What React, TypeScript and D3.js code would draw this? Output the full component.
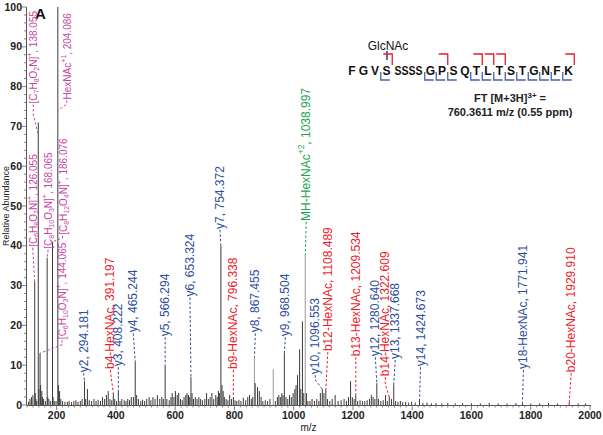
import React from "react";
import * as d3 from "d3";

// ---------------- DATA ----------------
// spectrum peaks: [m/z, relative abundance %]
const peaks: [number, number][] = [
  [105, 0.8], [110, 1.5], [115, 2.0], [120, 2.5], [126.055, 31], [128, 3], [130, 1.5], [133, 1],
  [138.055, 71], [140, 4], [144.065, 13], [146, 5], [150, 3.5], [152, 2], [156, 1.5], [162, 1],
  [168.065, 37], [170, 2], [174, 1.5], [180, 1], [186.076, 41], [188, 2], [192, 1], [198, 1],
  [204.086, 100], [206, 5], [210, 3.5], [214, 1.5], [220, 1], [228, 0.8],
  [236, 0.8], [242, 1], [250, 0.7], [258, 1], [265, 1.2], [272, 0.8], [280, 1], [286, 1.5],
  [294.181, 6], [298, 1.5], [304, 4], [310, 1.2], [318, 1], [326, 1.5], [333, 1], [340, 1.3],
  [348, 1], [355, 2], [362, 1.5], [368, 2.5], [374, 3.5], [380, 1.5], [386, 1.2], [391.197, 3],
  [396, 1.5], [402, 1], [408.222, 3.5], [414, 1], [420, 1.5], [428, 1.2], [434, 1], [440, 1.5],
  [446, 1.2], [452, 2], [459, 2], [465.244, 11], [470, 2.5], [476, 1.5], [484, 1], [490, 1.3],
  [497, 1], [504, 1.5], [512, 2], [518, 1.2], [525, 2], [532, 1.5], [540, 2.5], [548, 1.5],
  [555, 2], [560, 1.5], [566.294, 10], [572, 1.5], [580, 1.2], [586, 2], [590, 3], [596, 2],
  [601, 3.5], [607, 2.5], [612, 3], [618, 1.5], [624, 1.2], [630, 2], [636, 2.5], [640, 3],
  [645, 2.5], [649, 2], [653.324, 7], [657, 3], [662, 1.5], [668, 2], [674, 1.5], [680, 2],
  [686, 1.5], [692, 1.2], [700, 1.5], [706, 3], [712, 1.5], [718, 2], [724, 3], [730, 1.5],
  [737, 2.5], [742, 2], [746, 3.5], [750, 3], [754.372, 40], [758, 5], [762, 3.5], [766, 2],
  [772, 1.5], [778, 1.2], [784, 2.5], [790, 1.5], [796.338, 2], [802, 1.2], [808, 1], [815, 1.3],
  [822, 1], [830, 1.8], [838, 1.2], [845, 2], [851, 2.5], [857, 1.5], [862, 2], [867.455, 12],
  [870, 5.5], [878, 4.5], [884, 3.5], [890, 2], [896, 1], [904, 1.2], [912, 1], [920, 1.5],
  [931, 9], [938, 1], [945, 2], [950, 2.5], [955, 2], [960, 3], [964, 2.5], [968.504, 13],
  [974, 2], [980, 1.5], [986, 2.5], [992, 2], [998, 3], [1004, 4], [1008, 5], [1013, 7.5],
  [1020, 14], [1024, 4], [1029.5, 21], [1034, 3], [1038.997, 37.5], [1043, 3], [1048, 1],
  [1055, 1], [1062, 1.5], [1070, 1], [1078, 1.5], [1085, 1], [1090, 3], [1096.553, 4],
  [1102, 3], [1108.489, 4], [1114, 1.5], [1122, 1], [1130, 1.5], [1140, 2.5], [1150, 1],
  [1160, 1.2], [1170, 1.5], [1178, 1], [1185, 2], [1192, 6], [1198, 2], [1204, 1.5],
  [1209.534, 2.5], [1216, 1], [1224, 1.2], [1232, 1], [1240, 1], [1248, 1.2], [1256, 1.5],
  [1262, 2.5], [1268, 2], [1274, 1.5], [1280.64, 5.5], [1286, 1.5], [1294, 1], [1302, 1.2],
  [1310, 2.5], [1316, 1], [1322.609, 2], [1330, 1.5], [1337.668, 5], [1344, 1], [1352, 0.8],
  [1360, 1], [1368, 0.7], [1378, 0.8], [1388, 0.6], [1398, 0.8], [1410, 0.6], [1424.673, 1],
  [1436, 0.5], [1450, 0.6], [1465, 0.4], [1480, 0.5], [1500, 0.4], [1520, 0.5], [1545, 0.4],
  [1570, 0.5], [1600, 0.4], [1630, 0.4], [1660, 0.5], [1690, 0.4], [1720, 0.4], [1750, 0.5],
  [1771.941, 0.6], [1800, 0.4], [1830, 0.4], [1860, 0.5], [1890, 0.4], [1929.91, 0.6],
  [1960, 0.4], [1985, 0.4],
];
const lightPeaks = [867.455, 931, 1038.997];

// annotations
const annMz = [126.055, 138.055, 144.065, 168.065, 186.076, 204.086,
  294.181, 391.197, 408.222, 465.244, 566.294, 653.324, 754.372, 796.338, 867.455, 968.504,
  1038.997, 1096.553, 1108.489, 1209.534, 1280.64, 1322.609, 1337.668, 1424.673, 1771.941, 1929.91];
const annLabels = [
  "[C_6H_8O_2N]^+, 126.055", "[C_7H_8O_2N]^+, 138.055", "[C_6H_10O_3N]^+, 144.065",
  "[C_8H_10O_3N]^+, 168.065", "[C_8H_12O_4N]^+, 186.076", "HexNAc^+1, 204.086",
  "y2, 294.181", "b4-HexNAc, 391.197", "y3, 408.222", "y4, 465.244", "y5, 566.294", "y6, 653.324",
  "y7, 754.372", "b9-HexNAc, 796.338", "y8, 867.455", "y9, 968.504", "MH-HexNAc^+2, 1038.997",
  "y10, 1096.553", "b12-HexNAc, 1108.489", "b13-HexNAc, 1209.534", "y12, 1280.640",
  "b14-HexNAc, 1322.609", "y13, 1337.668", "y14, 1424.673", "y18-HexNAc, 1771.941", "b20-HexNAc, 1929.910"];
const annKinds = ["oxo", "oxo", "oxo", "oxo", "oxo", "oxo",
  "y", "b", "y", "y", "y", "y", "y", "b", "y", "y", "mh", "y", "b", "b", "y", "b", "y", "y", "y", "b"];

// sequence
const residues = ["F", "G", "V", "S", "SSSS", "G", "P", "S", "Q", "T", "L", "T", "S", "T", "G", "N", "F", "K"];
const bBreaks = [3, 6, 9, 10, 11, 17]; // after residue token
const yBreaks = [3, 5, 6, 7, 9, 10, 11, 12, 13, 14, 15, 16, 17]; // before residue token

const xTicksMajor = d3.range(200, 2001, 200);
const xTicksMinor = d3.range(100, 2001, 20);
const yTicksMajor = d3.range(0, 101, 10);
const yTicksMinor = d3.range(0, 101, 2);

// ---------------- LAYOUT / STYLE ----------------
// label placement: dx (px from peak), level (label bottom in %), target (leader end, %)
const annLayout: { dx: number; level: number; target?: number }[] = [
  { dx: -2, level: 39.5 }, { dx: -5, level: 75.5, target: 68 }, { dx: 22, level: 16.3 },
  { dx: 1, level: 39 }, { dx: 10, level: 42.5 }, { dx: 9, level: 76.5, target: 74 },
  { dx: -1, level: 8 }, { dx: -3, level: 8.8 }, { dx: 0, level: 9.5 }, { dx: -2, level: 18 },
  { dx: 0, level: 17 }, { dx: -1, level: 27 }, { dx: -1, level: 44 }, { dx: 0, level: 8.8 },
  { dx: 1, level: 18 }, { dx: 1, level: 17 }, { dx: 1, level: 46 }, { dx: -7, level: 7.5 },
  { dx: 2, level: 13.3 }, { dx: 0, level: 12 }, { dx: -1.5, level: 12 }, { dx: -4, level: 7 },
  { dx: 1.5, level: 11.3 }, { dx: 1, level: 9.5 }, { dx: 1, level: 8.8 }, { dx: 2, level: 8 },
];
const kindColor: Record<string, string> = { oxo: "#c5479f", y: "#2f4f9c", b: "#ec1c2a", mh: "#1ea44e" };

const W = 603, H = 435;
const x = d3.scaleLinear().domain([100, 2000]).range([27, 590]);
const y = d3.scaleLinear().domain([0, 100]).range([405, 7]);

function RichText({ s, fs }: { s: string; fs: number }) {
  const parts = s.match(/(_\d+|\^[+\-\d]+|[^_^]+)/g) || [];
  let shift = 0;
  return (
    <>
      {parts.map((p, i) => {
        let target = 0, txt = p, size = fs;
        if (p[0] === "_") { target = fs * 0.3; txt = p.slice(1); size = fs * 0.7; }
        else if (p[0] === "^") { target = -fs * 0.4; txt = p.slice(1); size = fs * 0.7; }
        const dy = target - shift;
        shift = target;
        return <tspan key={i} dy={dy} fontSize={size}>{txt}</tspan>;
      })}
    </>
  );
}

export default function App() {
  const font = "'Liberation Sans', Arial, sans-serif";
  // sequence layout
  const charW = 7, gap = 4.5;
  let cursor = 348.5;
  const tok = residues.map((r) => {
    const left = cursor;
    const right = left + r.length * charW;
    cursor = right + gap;
    return { r, left, right };
  });
  const seqBase = 75;
  const seqFs = 12;

  return (
    <svg width={W} height={H} style={{ position: "absolute", left: 0, top: 0, background: "#fff" }} fontFamily={font}>
      {/* peaks */}
      {peaks.map(([mz, v], i) => (
        <line key={i} x1={x(mz)} x2={x(mz)} y1={y(0)} y2={y(v)}
          stroke={lightPeaks.includes(mz) ? "#9a9a9a" : "#3a3a3a"} strokeWidth={1} />
      ))}

      {/* axes */}
      <line x1={x(100) - 0.5} x2={x(100) - 0.5} y1={y(0)} y2={y(100)} stroke="#555" strokeWidth={1} />
      <line x1={x(100) - 0.5} x2={x(2000) + 1} y1={y(0) + 0.5} y2={y(0) + 0.5} stroke="#555" strokeWidth={1} />
      {xTicksMinor.map((t) => (
        <line key={"xm" + t} x1={x(t)} x2={x(t)} y1={y(0)} y2={y(0) + (t % 200 === 0 ? 5 : 2.5)} stroke="#666" strokeWidth={0.8} />
      ))}
      {yTicksMinor.map((t) => (
        <line key={"ym" + t} x1={x(100) - 0.5} x2={x(100) - (t % 10 === 0 ? 5.5 : 3)} y1={y(t)} y2={y(t)} stroke="#666" strokeWidth={0.8} />
      ))}
      {xTicksMajor.map((t) => (
        <text key={"xl" + t} x={x(t)} y={419} textAnchor="middle" fontSize={10.5} fontWeight="bold" fill="#222">{t}</text>
      ))}
      {yTicksMajor.map((t) => (
        <text key={"yl" + t} x={22} y={y(t)} dy="0.35em" textAnchor="end" fontSize={10.5} fontWeight="bold" fill="#222">{t}</text>
      ))}
      <text x={(x(100) + x(2000)) / 2} y={431} textAnchor="middle" fontSize={10} fill="#222">m/z</text>
      <text transform={`translate(5.5,${y(50)}) rotate(-90)`} textAnchor="middle" dominantBaseline="central" fontSize={9} fill="#222">Relative Abundance</text>
      <text x={35} y={19} fontSize={15} fontWeight="bold" fill="#111">A</text>

      {/* annotations */}
      {annMz.map((mz, i) => {
        const L = annLayout[i];
        const peak = peaks.find((p) => Math.abs(p[0] - mz) < 0.01);
        const pv = L.target ?? (peak ? peak[1] : 0);
        const px = x(mz), lx = px + L.dx;
        const yl = y(L.level), yt = y(pv);
        const color = kindColor[annKinds[i]];
        const bend = Math.abs(L.dx) > 3;
        const d = bend
          ? `M${lx},${yl} L${lx},${yl + (yt - yl) * 0.35} L${px},${yt}`
          : `M${lx},${yl} L${px},${yt}`;
        const fs = annKinds[i] === "oxo" ? 10 : 12;
        return (
          <g key={"a" + i}>
            <path d={d} fill="none" stroke={color} strokeWidth={1} strokeDasharray="2.5,2" />
            <text transform={`translate(${lx},${yl - 1}) rotate(-90)`} dominantBaseline="central" fontSize={fs} fill={color}>
              <RichText s={annLabels[i]} fs={fs} />
            </text>
          </g>
        );
      })}

      {/* sequence */}
      <text x={388} y={50} textAnchor="middle" fontSize={12} fill="#111">GlcNAc</text>
      <line x1={387} x2={387} y1={51} y2={60} stroke="#111" strokeWidth={1.2} />
      {tok.map((t, i) =>
        t.r.length === 1 ? (
          <text key={"s" + i} x={(t.left + t.right) / 2} y={seqBase} textAnchor="middle"
            fontSize={seqFs} fontWeight="bold" fill="#111">{t.r}</text>
        ) : (
          <text key={"s" + i} x={t.left} y={seqBase} textLength={t.right - t.left} lengthAdjust="spacingAndGlyphs"
            fontSize={seqFs} fontWeight="bold" fill="#111">{t.r}</text>
        )
      )}
      {bBreaks.map((bi) => {
        const gx = tok[bi].right + gap / 2;
        return <path key={"b" + bi} d={`M${gx - 9},54 L${gx},54 L${gx},65`} fill="none" stroke="#ec1c2a" strokeWidth={1.3} />;
      })}
      {yBreaks.map((yi) => {
        const gx = tok[yi].left - gap / 2;
        return <path key={"y" + yi} d={`M${gx},72 L${gx},80 L${gx + 9},80`} fill="none" stroke="#4a62b0" strokeWidth={1.3} />;
      })}
      <text x={510} y={102} textAnchor="middle" fontSize={11} fontWeight="bold" fill="#222">
        FT [M+3H]<tspan dy={-4} fontSize={8}>3+</tspan><tspan dy={4}> =</tspan>
      </text>
      <text x={510} y={116} textAnchor="middle" fontSize={11} fontWeight="bold" fill="#222">760.3611 m/z (0.55 ppm)</text>
    </svg>
  );
}
